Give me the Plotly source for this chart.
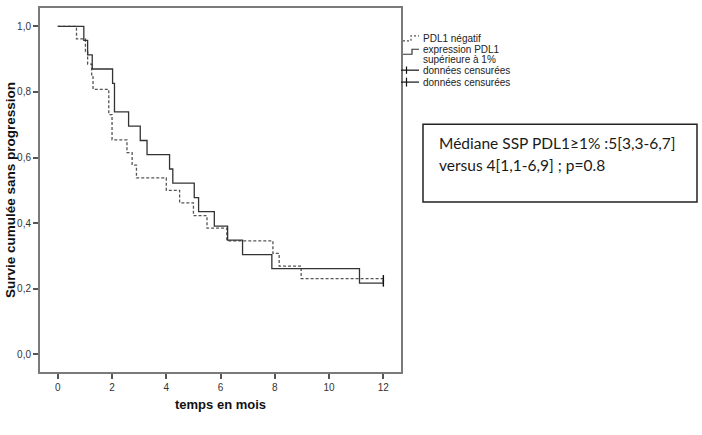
import plotly.graph_objects as go

# ---- data ----
times_neg = [0, 0.69, 1.02, 1.10, 1.25, 1.30, 1.88, 2.00, 2.55, 2.74, 2.90, 4.00, 4.49, 5.00, 5.50, 6.23, 7.93, 8.16, 8.97, 12.0]
surv_neg = [1.0, 0.962, 0.923, 0.885, 0.846, 0.808, 0.731, 0.654, 0.615, 0.577, 0.538, 0.500, 0.462, 0.423, 0.385, 0.346, 0.308, 0.269, 0.231, 0.231]

times_pos = [0, 0.96, 1.10, 1.27, 2.02, 2.09, 2.61, 3.04, 3.29, 4.12, 4.24, 5.03, 5.19, 5.77, 6.26, 6.81, 7.89, 11.12, 12.0]
surv_pos = [1.0, 0.957, 0.913, 0.870, 0.826, 0.739, 0.696, 0.652, 0.609, 0.565, 0.522, 0.478, 0.435, 0.391, 0.348, 0.304, 0.261, 0.217, 0.217]

cens_neg_t = [12.0]
cens_neg_s = [0.231]
cens_pos_t = [12.0]
cens_pos_s = [0.217]

x_ticks = [0, 2, 4, 6, 8, 10, 12]
y_ticks = [0.0, 0.2, 0.4, 0.6, 0.8, 1.0]
y_ticklabels = ["0,0", "0,2", "0,4", "0,6", "0,8", "1,0"]

legend_labels = ["PDL1 négatif", "expression PDL1", "supérieure à 1%", "données censurées", "données censurées"]
box_lines = ["Médiane SSP PDL1≥1% :5[3,3-6,7]", "versus 4[1,1-6,9] ; p=0.8"]

# ---- layout geometry ----
W, H = 702, 435
L, R, T, B = 40, 301, 6, 63
PW, PH = W - L - R, H - T - B


def px(x):
    return (x - L) / PW


def py(y):
    return (H - B - y) / PH


fig = go.Figure()
fig.add_trace(go.Scatter(x=times_neg, y=surv_neg, mode="lines", line_shape="hv",
                         line=dict(color="#555555", width=1.3, dash="3px,2px"), showlegend=False))
fig.add_trace(go.Scatter(x=times_pos, y=surv_pos, mode="lines", line_shape="hv",
                         line=dict(color="#333333", width=1.3), showlegend=False))
fig.add_trace(go.Scatter(x=cens_neg_t, y=cens_neg_s, mode="markers",
                         marker=dict(symbol="line-ns", size=5, line=dict(color="#111", width=1.4)), showlegend=False))
fig.add_trace(go.Scatter(x=cens_pos_t, y=cens_pos_s, mode="markers",
                         marker=dict(symbol="line-ns", size=5, line=dict(color="#111", width=1.4)), showlegend=False))

axis_common = dict(showgrid=False, zeroline=False, showline=True, linecolor="#7a7a7a", linewidth=2,
                   mirror=True, ticks="outside", ticklen=5, tickwidth=2, tickcolor="#555",
                   tickfont=dict(family="Arial, Liberation Sans", size=10, color="#333"))

fig.update_xaxes(range=[-0.655, 12.65], tickvals=x_ticks, **axis_common)
fig.update_yaxes(range=[-0.054, 1.056], tickvals=y_ticks, ticktext=y_ticklabels, **axis_common)

shapes = []
annotations = []

# axis titles
annotations.append(dict(text="<b>temps en mois</b>", x=px(220), y=py(405), xref="paper", yref="paper",
                        showarrow=False, xanchor="center", yanchor="middle",
                        font=dict(family="Arial, Liberation Sans", size=13, color="#111")))
annotations.append(dict(text="<b>Survie cumulée sans progression</b>", x=px(10), y=py(189), xref="paper", yref="paper",
                        showarrow=False, xanchor="center", yanchor="middle", textangle=-90,
                        font=dict(family="Arial, Liberation Sans", size=13.5, color="#111")))

# legend (drawn manually)
leg_y = [37, 48, 58, 68.5, 81]
for lab, yy in zip(legend_labels, leg_y):
    annotations.append(dict(text=lab, x=px(421), y=py(yy), xref="paper", yref="paper",
                            showarrow=False, xanchor="left", yanchor="middle",
                            font=dict(family="Arial, Liberation Sans", size=10, color="#222")))


def seg_path(points):
    return "M " + " L ".join(f"{px(a):.5f},{py(b):.5f}" for a, b in points)


shapes.append(dict(type="path", xref="paper", yref="paper",
                   path=seg_path([(403, 39), (411, 39), (411, 34), (419, 34)]),
                   line=dict(color="#505050", width=1.2, dash="2px,2px")))
shapes.append(dict(type="path", xref="paper", yref="paper",
                   path=seg_path([(403, 52.5), (412, 52.5), (412, 47.5), (419, 47.5)]),
                   line=dict(color="#333", width=1.2)))
for yy, hh in [(68.5, 3.7), (80.5, 4.5)]:
    shapes.append(dict(type="line", xref="paper", yref="paper",
                       x0=px(401), x1=px(419), y0=py(yy), y1=py(yy), line=dict(color="#111", width=1.2)))
    shapes.append(dict(type="line", xref="paper", yref="paper",
                       x0=px(406.5), x1=px(406.5), y0=py(yy - hh), y1=py(yy + hh), line=dict(color="#111", width=1.2)))

# text box
shapes.append(dict(type="rect", xref="paper", yref="paper", x0=px(423), x1=px(697), y0=py(123), y1=py(201),
                   line=dict(color="#222", width=1.5), fillcolor="rgba(0,0,0,0)"))
for txt, yy in zip(box_lines, [142, 164]):
    annotations.append(dict(text=txt, x=px(437), y=py(yy), xref="paper", yref="paper",
                            showarrow=False, xanchor="left", yanchor="middle",
                            font=dict(family="Lato, Open Sans", size=15.5, color="#1a1a1a")))

fig.update_layout(width=W, height=H, margin=dict(l=L, r=R, t=T, b=B, pad=0),
                  paper_bgcolor="white", plot_bgcolor="white",
                  shapes=shapes, annotations=annotations, showlegend=False)

fig.write_html("out.html")
